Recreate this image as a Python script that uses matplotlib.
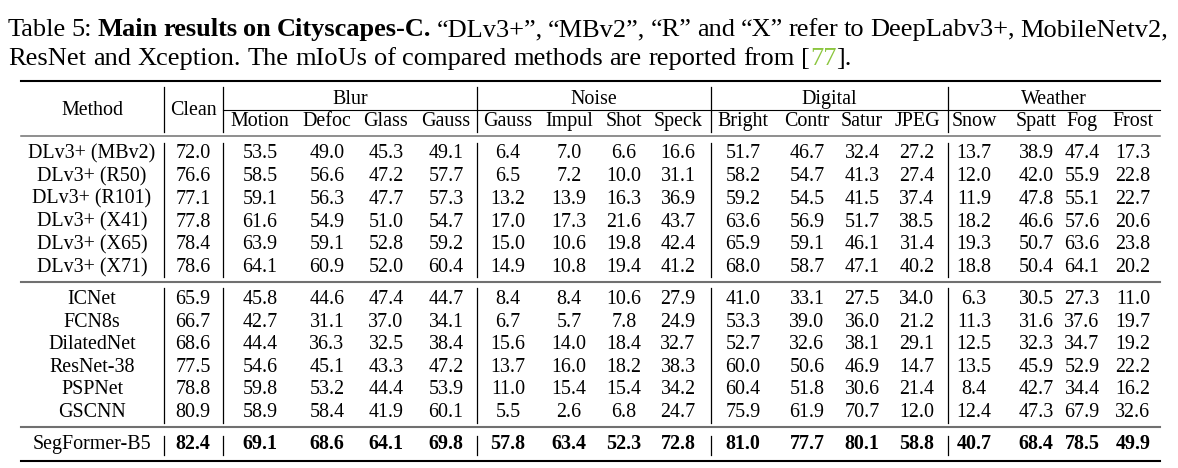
import matplotlib.pyplot as plt

plt.rcParams['font.family'] = ['Liberation Serif', 'DejaVu Serif']

# --- data ---
methods = ["DLv3+ (MBv2)", "DLv3+ (R50)", "DLv3+ (R101)", "DLv3+ (X41)", "DLv3+ (X65)", "DLv3+ (X71)",
           "ICNet", "FCN8s", "DilatedNet", "ResNet-38", "PSPNet", "GSCNN",
           "SegFormer-B5"]
clean = [72.0, 76.6, 77.1, 77.8, 78.4, 78.6, 65.9, 66.7, 68.6, 77.5, 78.8, 80.9, 82.4]
blur = [[53.5, 49.0, 45.3, 49.1], [58.5, 56.6, 47.2, 57.7], [59.1, 56.3, 47.7, 57.3],
        [61.6, 54.9, 51.0, 54.7], [63.9, 59.1, 52.8, 59.2], [64.1, 60.9, 52.0, 60.4],
        [45.8, 44.6, 47.4, 44.7], [42.7, 31.1, 37.0, 34.1], [44.4, 36.3, 32.5, 38.4],
        [54.6, 45.1, 43.3, 47.2], [59.8, 53.2, 44.4, 53.9], [58.9, 58.4, 41.9, 60.1],
        [69.1, 68.6, 64.1, 69.8]]
noise = [[6.4, 7.0, 6.6, 16.6], [6.5, 7.2, 10.0, 31.1], [13.2, 13.9, 16.3, 36.9],
         [17.0, 17.3, 21.6, 43.7], [15.0, 10.6, 19.8, 42.4], [14.9, 10.8, 19.4, 41.2],
         [8.4, 8.4, 10.6, 27.9], [6.7, 5.7, 7.8, 24.9], [15.6, 14.0, 18.4, 32.7],
         [13.7, 16.0, 18.2, 38.3], [11.0, 15.4, 15.4, 34.2], [5.5, 2.6, 6.8, 24.7],
         [57.8, 63.4, 52.3, 72.8]]
digital = [[51.7, 46.7, 32.4, 27.2], [58.2, 54.7, 41.3, 27.4], [59.2, 54.5, 41.5, 37.4],
           [63.6, 56.9, 51.7, 38.5], [65.9, 59.1, 46.1, 31.4], [68.0, 58.7, 47.1, 40.2],
           [41.0, 33.1, 27.5, 34.0], [53.3, 39.0, 36.0, 21.2], [52.7, 32.6, 38.1, 29.1],
           [60.0, 50.6, 46.9, 14.7], [60.4, 51.8, 30.6, 21.4], [75.9, 61.9, 70.7, 12.0],
           [81.0, 77.7, 80.1, 58.8]]
weather = [[13.7, 38.9, 47.4, 17.3], [12.0, 42.0, 55.9, 22.8], [11.9, 47.8, 55.1, 22.7],
           [18.2, 46.6, 57.6, 20.6], [19.3, 50.7, 63.6, 23.8], [18.8, 50.4, 64.1, 20.2],
           [6.3, 30.5, 27.3, 11.0], [11.3, 31.6, 37.6, 19.7], [12.5, 32.3, 34.7, 19.2],
           [13.5, 45.9, 52.9, 22.2], [8.4, 42.7, 34.4, 16.2], [12.4, 47.3, 67.9, 32.6],
           [40.7, 68.4, 78.5, 49.9]]
groups = ["Blur", "Noise", "Digital", "Weather"]
sub_cols = [["Motion", "Defoc", "Glass", "Gauss"], ["Gauss", "Impul", "Shot", "Speck"],
            ["Bright", "Contr", "Satur", "JPEG"], ["Snow", "Spatt", "Fog", "Frost"]]
group_data = [blur, noise, digital, weather]

# --- layout (pixel space) ---
W, H = 1178, 468
fig = plt.figure(figsize=(W / 100, H / 100), dpi=100)
ax = fig.add_axes([0, 0, 1, 1])
ax.set_xlim(0, W)
ax.set_ylim(H, 0)
ax.axis('off')
r = fig.canvas.get_renderer()

FS = 14.4
CAP_FS = 19
method_x, clean_x = 92, 193
col_x = [[260, 327, 386, 446], [508, 569, 624, 678], [743, 807, 862, 917], [974, 1036, 1082, 1133]]
seps = [164, 223, 477, 711, 948]
x0, x1 = 21, 1160
row_base = [158.5 + 22.7 * k for k in range(6)] + [304 + 22.6 * k for k in range(6)] + [449]
GREEN = '#8cc63f'


def draw_line(x, y, tokens, right=None):
    # tokens: (text, weight, color, space_before)
    arts = []
    for txt, weight, color, sp in tokens:
        t = ax.text(0, y, txt, fontsize=CAP_FS, fontweight=weight, color=color, va='baseline', ha='left')
        arts.append((t, t.get_window_extent(renderer=r).width, sp))
    sp_w = ax.text(0, y, "a a", fontsize=CAP_FS).get_window_extent(renderer=r).width - \
        ax.text(0, y, "aa", fontsize=CAP_FS).get_window_extent(renderer=r).width
    for t in ax.texts[-2:]:
        t.remove()
    n_sp = sum(1 for a in arts if a[2])
    if right is not None and n_sp:
        sp_w = (right - x - sum(a[1] for a in arts)) / n_sp
    for t, w, sp in arts:
        if sp:
            x += sp_w
        t.set_x(x)
        x += w


def words(text, weight='normal', color='black', first_space=True):
    out = []
    for i, wd in enumerate(text.split(' ')):
        out.append((wd, weight, color, first_space if i == 0 else True))
    return out


line1 = (words("Table 5:", first_space=False) + words("Main results on Cityscapes-C.", 'bold') +
         words("\u201cDLv3+\u201d, \u201cMBv2\u201d, \u201cR\u201d and \u201cX\u201d refer to DeepLabv3+, MobileNetv2,"))
line2 = (words("ResNet and Xception. The mIoUs of compared methods are reported from [", first_space=False) +
         [("77", 'normal', GREEN, False), ("].", 'normal', 'black', False)])
draw_line(8, 36, line1, right=1168)
draw_line(8, 65, line2)

# rules
ax.plot([x0, x1], [80.5, 80.5], color='black', lw=1.5)
ax.plot([seps[1], x1], [110, 110], color='black', lw=0.8)
ax.plot([x0, x1], [136, 136], color='#707070', lw=1.1)
ax.plot([x0, x1], [282, 282], color='#707070', lw=1.5)
ax.plot([x0, x1], [427, 427], color='#707070', lw=1.5)
ax.plot([x0, x1], [461, 461], color='black', lw=1.5)

# vertical separators
for sx in seps:
    for ya, yb in [(87, 132), (143, 277), (288, 423), (436, 455)]:
        ax.plot([sx, sx], [ya, yb], color='black', lw=0.9)

# header
ax.text(method_x, 115, "Method", fontsize=FS, ha='center', va='baseline')
ax.text(clean_x, 115, "Clean", fontsize=FS, ha='center', va='baseline')
for g, name in enumerate(groups):
    gx = (seps[g + 1] + (seps[g + 2] if g + 2 < len(seps) else x1)) / 2
    ax.text(gx, 104, name, fontsize=FS, ha='center', va='baseline')
    for c, sub in enumerate(sub_cols[g]):
        ax.text(col_x[g][c], 126, sub, fontsize=FS, ha='center', va='baseline')

# body
for i, m in enumerate(methods):
    y = row_base[i]
    w = 'bold' if m == "SegFormer-B5" else 'normal'
    ax.text(method_x, y, m, fontsize=FS, ha='center', va='baseline')
    ax.text(clean_x, y, f"{clean[i]:.1f}", fontsize=FS, ha='center', va='baseline', fontweight=w)
    for g in range(4):
        for c in range(4):
            ax.text(col_x[g][c], y, f"{group_data[g][i][c]:.1f}", fontsize=FS,
                    ha='center', va='baseline', fontweight=w)

fig.savefig("out.png", dpi=100)
